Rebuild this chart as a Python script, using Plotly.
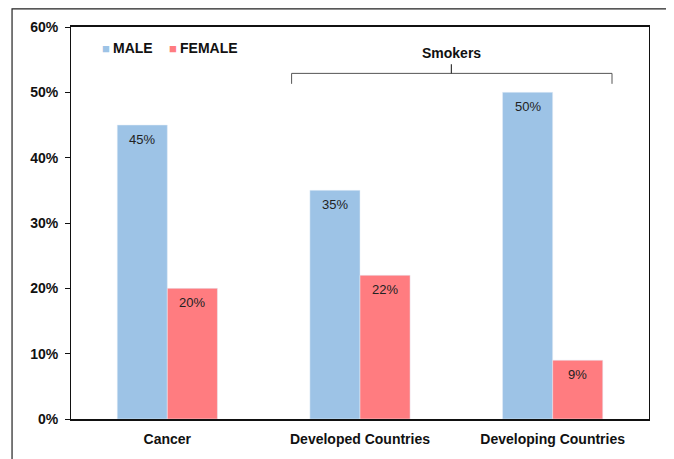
import plotly.graph_objects as go

categories = ["Cancer", "Developed Countries", "Developing Countries"]
male = [45, 35, 50]
female = [20, 22, 9]
male_labels = ["45%", "35%", "50%"]
female_labels = ["20%", "22%", "9%"]
tick_vals = [0, 10, 20, 30, 40, 50, 60]
tick_text = ["0%", "10%", "20%", "30%", "40%", "50%", "60%"]

MALE_C = "#9DC3E6"
FEMALE_C = "#FF7C80"
FONT = "Liberation Sans, Arial, sans-serif"

fig = go.Figure()
fig.add_trace(go.Bar(x=categories, y=male, name="MALE", marker_color=MALE_C,
                     offsetgroup="m", showlegend=False))
fig.add_trace(go.Bar(x=categories, y=female, name="FEMALE", marker_color=FEMALE_C,
                     offsetgroup="f", showlegend=False))

# value labels just inside the top of each bar
for i, c in enumerate(categories):
    fig.add_annotation(x=i, y=male[i], xref="x", yref="y", text=male_labels[i], showarrow=False,
                       xshift=-25, yanchor="top", yshift=-5,
                       font=dict(size=13, color="#222", family=FONT))
    fig.add_annotation(x=i, y=female[i], xref="x", yref="y", text=female_labels[i], showarrow=False,
                       xshift=25, yanchor="top", yshift=-5,
                       font=dict(size=13, color="#222", family=FONT))

# legend as annotations (small square keys)
for xk, xt, col, name in [(0.050, 0.069, MALE_C, "MALE"), (0.166, 0.185, FEMALE_C, "FEMALE")]:
    fig.add_annotation(x=xk, y=0.946, xref="paper", yref="paper", xanchor="left", yanchor="middle",
                       showarrow=False, text="■", font=dict(size=13, color=col, family=FONT))
    fig.add_annotation(x=xt, y=0.946, xref="paper", yref="paper", xanchor="left", yanchor="middle",
                       showarrow=False, text="<b>%s</b>" % name,
                       font=dict(size=14, color="#111", family=FONT))

# Smokers bracket (data coordinates)
line = dict(color="#555", width=1)
fig.add_shape(type="line", x0=0.645, x1=2.308, y0=52.9, y1=52.9, xref="x", yref="y", line=line)
fig.add_shape(type="line", x0=0.645, x1=0.645, y0=52.9, y1=51.3, xref="x", yref="y", line=line)
fig.add_shape(type="line", x0=2.308, x1=2.308, y0=52.9, y1=51.3, xref="x", yref="y", line=line)
fig.add_shape(type="line", x0=1.474, x1=1.474, y0=52.9, y1=54.3, xref="x", yref="y",
              line=dict(color="#111", width=1))
fig.add_annotation(x=1.474, y=56.0, xref="x", yref="y", text="<b>Smokers</b>", showarrow=False,
                   font=dict(size=14, color="#111", family=FONT))

# outer chart border
fig.add_shape(type="rect", x0=-0.102, x1=1.0346, y0=-0.13, y1=1.046, xref="paper", yref="paper",
              line=dict(color="#222", width=1.2), layer="below")

fig.update_layout(
    width=666, height=451,
    margin=dict(l=63, r=25, t=19, b=40),
    paper_bgcolor="white", plot_bgcolor="white",
    barmode="group", bargap=0.48, bargroupgap=0,
    font=dict(family=FONT, color="#111"),
    showlegend=False,
    xaxis=dict(showline=True, linecolor="#111", linewidth=1.5, mirror=True,
               tickfont=dict(size=14, family=FONT, color="#111"), ticks="",
               ticklabelstandoff=6,
               tickvals=categories, ticktext=["<b>%s</b>" % c for c in categories],
               range=[-0.5, 2.5]),
    yaxis=dict(range=[0, 60], tickvals=tick_vals, ticktext=["<b>%s</b>" % t for t in tick_text],
               showgrid=False, zeroline=False, showline=True, linecolor="#111", linewidth=1,
               mirror=True, ticks="outside", ticklen=5, tickcolor="#111",
               ticklabelstandoff=4,
               tickfont=dict(size=14, family=FONT, color="#111")),
)

fig.write_html("out.html")
